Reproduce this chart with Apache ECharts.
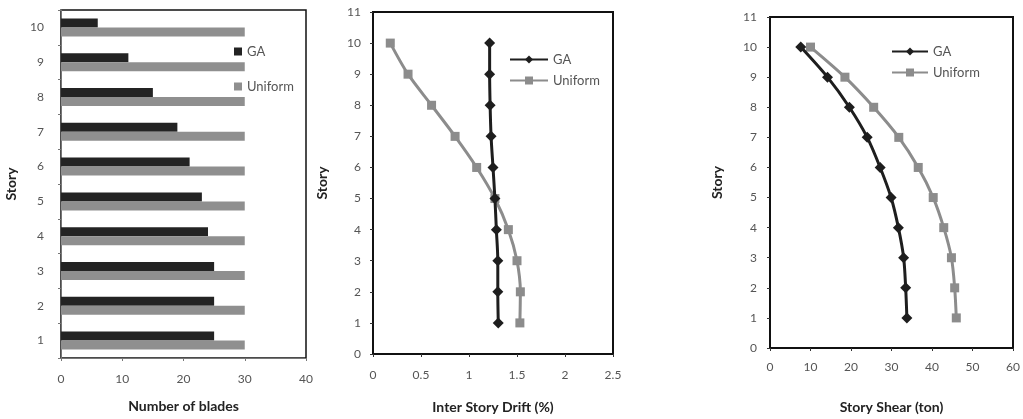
<!DOCTYPE html>
<html><head><meta charset="utf-8">
<script src="https://cdn.jsdelivr.net/npm/echarts@6/dist/echarts.min.js"></script>
<style>html,body{margin:0;padding:0;background:#fff}#c{width:1023px;height:419px}</style>
</head><body><div id="c"></div>
<script>
const stories = ['1','2','3','4','5','6','7','8','9','10'];
const storyNums = [1,2,3,4,5,6,7,8,9,10];
const bladesGA = [25,25,25,24,23,21,19,15,11,6];
const bladesUniform = [30,30,30,30,30,30,30,30,30,30];
const driftGA = [1.305,1.30,1.30,1.285,1.27,1.25,1.23,1.22,1.215,1.215];
const driftUniform = [1.53,1.535,1.50,1.41,1.27,1.08,0.855,0.61,0.365,0.18];
const shearGA = [33.8,33.5,33.0,31.7,29.9,27.2,24.0,19.6,14.2,7.6];
const shearUniform = [46.0,45.6,44.8,42.9,40.3,36.6,31.8,25.6,18.5,10.0];

const FONT = 'Lato, "Open Sans", sans-serif';
const DARK = '#1e1e1e', GRAY = '#8c8c8c';
const lbl = (m) => ({color:'#555', fontSize:12, fontFamily:FONT, margin:m});
const nameStyle = {color:'#222', fontSize:14, fontWeight:'bold', fontFamily:FONT};
const legText = {color:'#555', fontSize:13, fontFamily:FONT};
const pairs = (xs) => xs.map((v,i)=>[v, storyNums[i]]);

const chart = echarts.init(document.getElementById('c'));
chart.setOption({
  backgroundColor:'#fff',
  animation:false,
  grid:[
    {left:61, top:10, width:245, height:348, show:true, borderColor:'#111', borderWidth:1.5},
    {left:373, top:12, width:240, height:346, show:true, borderColor:'#111', borderWidth:2},
    {left:770, top:17, width:243, height:343, show:true, borderColor:'#111', borderWidth:2}
  ],
  xAxis:[
    {gridIndex:0, type:'value', min:0, max:40, interval:10, splitLine:{show:false},
     axisLine:{show:true, lineStyle:{color:'#777'}}, axisTick:{show:true, length:3, lineStyle:{color:'#777'}},
     axisLabel:lbl(15), name:'Number of blades', nameLocation:'middle', nameGap:41, nameTextStyle:nameStyle},
    {gridIndex:1, type:'value', min:0, max:2.5, interval:0.5, splitLine:{show:false},
     axisLine:{show:true, lineStyle:{color:'#111', width:2}}, axisTick:{show:true, length:3, lineStyle:{color:'#333'}},
     axisLabel:lbl(15), name:'Inter Story Drift (%)', nameLocation:'middle', nameGap:46, nameTextStyle:nameStyle},
    {gridIndex:2, type:'value', min:0, max:60, interval:10, splitLine:{show:false},
     axisLine:{show:true, lineStyle:{color:'#111', width:2}}, axisTick:{show:true, length:3, lineStyle:{color:'#333'}},
     axisLabel:lbl(13), name:'Story Shear (ton)', nameLocation:'middle', nameGap:52, nameTextStyle:nameStyle}
  ],
  yAxis:[
    {gridIndex:0, type:'category', data:stories, axisLine:{show:true, lineStyle:{color:'#777'}},
     axisTick:{show:true, length:3, lineStyle:{color:'#777'}}, axisLabel:lbl(17),
     name:'Story', nameLocation:'middle', nameGap:43, nameTextStyle:nameStyle},
    {gridIndex:1, type:'value', min:0, max:11, interval:1, splitLine:{show:false},
     axisLine:{show:true, lineStyle:{color:'#111', width:2}}, axisTick:{show:true, length:3, lineStyle:{color:'#333'}},
     axisLabel:lbl(12), name:'Story', nameLocation:'middle', nameGap:44, nameTextStyle:nameStyle},
    {gridIndex:2, type:'value', min:0, max:11, interval:1, splitLine:{show:false},
     axisLine:{show:true, lineStyle:{color:'#111', width:2}}, axisTick:{show:true, length:3, lineStyle:{color:'#333'}},
     axisLabel:lbl(13), name:'Story', nameLocation:'middle', nameGap:46, nameTextStyle:nameStyle}
  ],
  legend:[
    {data:['GA|b','Uniform|b'], orient:'vertical', left:229, top:40, itemGap:22, itemWidth:8, itemHeight:8, icon:'rect',
     formatter:n=>n.split('|')[0], textStyle:legText},
    {data:['GA|d','Uniform|d'], orient:'vertical', left:504, top:48, itemGap:8, itemWidth:38, itemHeight:10,
     formatter:n=>n.split('|')[0], textStyle:legText},
    {data:['GA|s','Uniform|s'], orient:'vertical', left:886, top:40, itemGap:8, itemWidth:36, itemHeight:10,
     formatter:n=>n.split('|')[0], textStyle:legText}
  ],
  series:[
    {name:'GA|b', type:'bar', xAxisIndex:0, yAxisIndex:0, data:bladesGA, barWidth:9, barGap:'0%', itemStyle:{color:'#232323'}},
    {name:'Uniform|b', type:'bar', xAxisIndex:0, yAxisIndex:0, data:bladesUniform, barWidth:9, barGap:'0%', itemStyle:{color:'#8f8f8f'}},
    {name:'GA|d', type:'line', xAxisIndex:1, yAxisIndex:1, data:pairs(driftGA), smooth:0.3, symbol:'diamond', symbolSize:11,
     lineStyle:{color:DARK, width:3}, itemStyle:{color:DARK}, z:3},
    {name:'Uniform|d', type:'line', xAxisIndex:1, yAxisIndex:1, data:pairs(driftUniform), smooth:0.3, symbol:'rect', symbolSize:9,
     lineStyle:{color:GRAY, width:3}, itemStyle:{color:GRAY}, z:2},
    {name:'GA|s', type:'line', xAxisIndex:2, yAxisIndex:2, data:pairs(shearGA), smooth:0.3, symbol:'diamond', symbolSize:11,
     lineStyle:{color:DARK, width:3}, itemStyle:{color:DARK}, z:3},
    {name:'Uniform|s', type:'line', xAxisIndex:2, yAxisIndex:2, data:pairs(shearUniform), smooth:0.3, symbol:'rect', symbolSize:9,
     lineStyle:{color:GRAY, width:3}, itemStyle:{color:GRAY}, z:2}
  ]
});
</script></body></html>
